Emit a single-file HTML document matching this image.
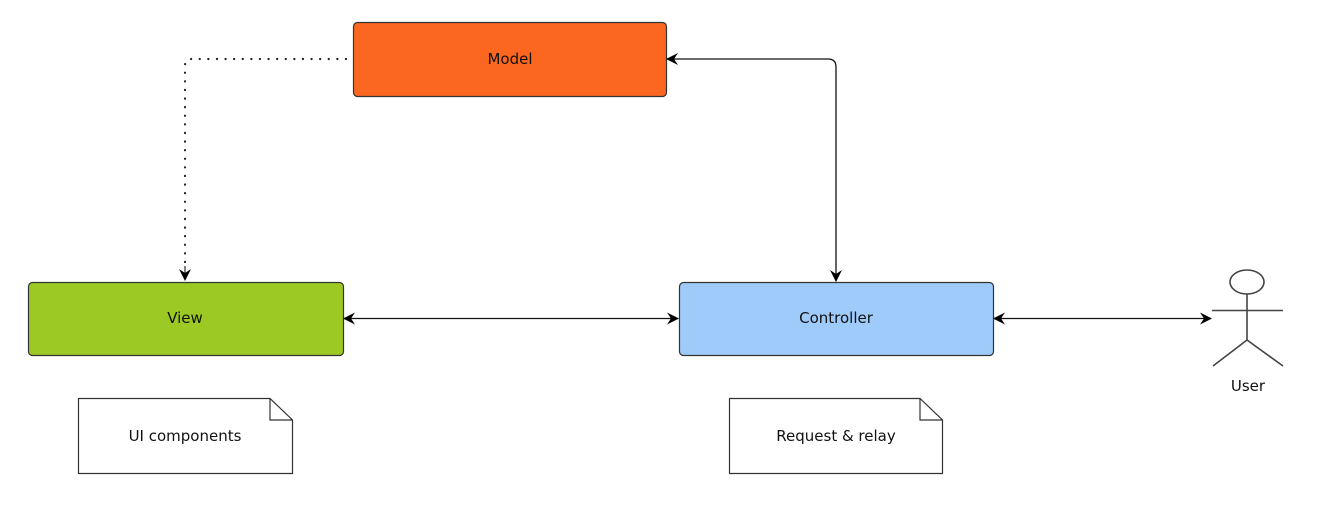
<!DOCTYPE html>
<html><head><meta charset="utf-8"><style>
html,body{margin:0;padding:0;background:#fff;width:1330px;height:526px;overflow:hidden}
text{font-family:"DejaVu Sans","Liberation Sans",sans-serif;font-size:15px;fill:#111}
</style></head><body>
<svg width="1330" height="526" xmlns="http://www.w3.org/2000/svg">
<defs>
<marker id="a" viewBox="0 0 12 12" refX="11" refY="6" markerWidth="12" markerHeight="12" markerUnits="userSpaceOnUse" orient="auto-start-reverse">
<path d="M0,0 L12,6 L0,12 L4,6 Z" fill="#000"/></marker>
</defs>
<rect x="353.5" y="22.5" width="313" height="74" rx="4" fill="#fb6721" stroke="#333" stroke-width="1.2"/>
<text x="510" y="64" text-anchor="middle">Model</text>
<rect x="28.5" y="282.5" width="315" height="73" rx="4" fill="#9dc924" stroke="#333" stroke-width="1.2"/>
<text x="185" y="323" text-anchor="middle">View</text>
<rect x="679.5" y="282.5" width="314" height="73" rx="4" fill="#9ecbfa" stroke="#333" stroke-width="1.2"/>
<text x="836" y="323" text-anchor="middle">Controller</text>
<path d="M346,59 H192 Q185,59 185,66 V268" fill="none" stroke="#222" stroke-width="2.2" stroke-dasharray="0.1 8.5" stroke-linecap="round"/>
<path d="M185,266 L185,280" stroke="#000" stroke-width="1" marker-end="url(#a)"/>
<path d="M667,59 H828 Q836,59 836,67 V281" fill="none" stroke="#111" stroke-width="1.3" marker-start="url(#a)" marker-end="url(#a)"/>
<path d="M344,318.5 H678" stroke="#111" stroke-width="1.3" marker-start="url(#a)" marker-end="url(#a)"/>
<path d="M994,318.5 H1211" stroke="#111" stroke-width="1.3" marker-start="url(#a)" marker-end="url(#a)"/>
<g stroke="#444" stroke-width="1.6" fill="#fff">
<ellipse cx="1247" cy="282" rx="17" ry="12"/>
<path d="M1247,294 V340 M1212,310.5 H1283 M1247,340 L1213,366 M1247,340 L1283,366" fill="none"/>
</g>
<text x="1248" y="391" text-anchor="middle">User</text>
<path d="M78.5,398.5 H270 L292.5,420 V473.5 H78.5 Z" fill="#fff" stroke="#333" stroke-width="1.2"/>
<path d="M270,398.5 V420 H292.5" fill="none" stroke="#333" stroke-width="1.2"/>
<text x="185" y="441" text-anchor="middle">UI components</text>
<path d="M729.5,398.5 H920 L942.5,420 V473.5 H729.5 Z" fill="#fff" stroke="#333" stroke-width="1.2"/>
<path d="M920,398.5 V420 H942.5" fill="none" stroke="#333" stroke-width="1.2"/>
<text x="836" y="441" text-anchor="middle">Request &amp; relay</text>
</svg>
</body></html>
